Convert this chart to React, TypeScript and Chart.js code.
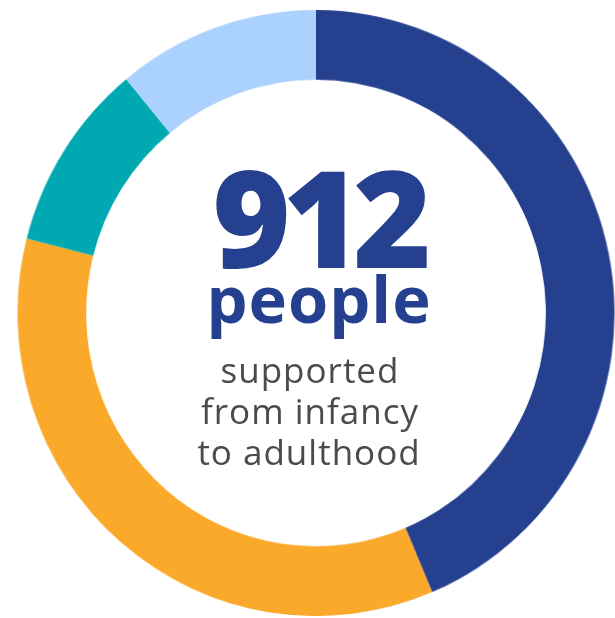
import React, { useEffect, useRef } from "react";
import { Chart, registerables } from "chart.js";

Chart.register(...registerables);

const categories = ["Infancy", "Childhood", "Adolescence", "Adulthood"];
const values = [398, 322, 92, 100];
const colors = ["#25408F", "#FAA92A", "#00A9B1", "#ABD1FE"];
const totalLabel = "912";
const unitLabel = "people";
const captionLines = ["supported", "from infancy", "to adulthood"];

export default function App() {
  const ref = useRef<HTMLCanvasElement | null>(null);
  useEffect(() => {
    if (!ref.current) return;
    const chart = new Chart(ref.current, {
      type: "doughnut",
      data: {
        labels: categories,
        datasets: [
          {
            data: values,
            backgroundColor: colors,
            borderWidth: 0,
          },
        ],
      },
      options: {
        animation: false,
        responsive: true,
        maintainAspectRatio: false,
        cutout: "77%",
        rotation: 0,
        plugins: { legend: { display: false }, tooltip: { enabled: false } },
        layout: { padding: 0 },
      },
    });
    return () => chart.destroy();
  }, []);

  const blue = "#25408F";
  const gray = "#4B4B4B";
  const font = "'Open Sans', 'DejaVu Sans', sans-serif";
  const line = (text: string, top: number, cx: number, size: number, weight: number, color: string, ls: number) => (
    <div
      key={text}
      style={{
        position: "absolute",
        left: cx - 300,
        width: 600,
        top,
        textAlign: "center",
        fontFamily: font,
        fontSize: size,
        lineHeight: `${size}px`,
        fontWeight: weight,
        color,
        letterSpacing: ls,
        whiteSpace: "nowrap",
      }}
    >
      {text}
    </div>
  );

  return (
    <div style={{ position: "fixed", left: 0, top: 0, width: 615, height: 618, overflow: "hidden", background: "#fff" }}>
      <div
        style={{
          position: "absolute",
          left: 16,
          top: 13,
          width: 600,
          height: 600,
          transform: "scale(0.995, 1.01)",
          transformOrigin: "50% 50%",
        }}
      >
        <canvas ref={ref} />
      </div>
      {line(totalLabel, 149, 318, 134, 800, blue, -8)}
      {line(unitLabel, 266, 319, 65, 700, blue, 1)}
      {line(captionLines[0], 352, 310, 35, 400, gray, 1)}
      {line(captionLines[1], 393, 310, 35, 400, gray, 1)}
      {line(captionLines[2], 434, 309, 35, 400, gray, 1)}
    </div>
  );
}
